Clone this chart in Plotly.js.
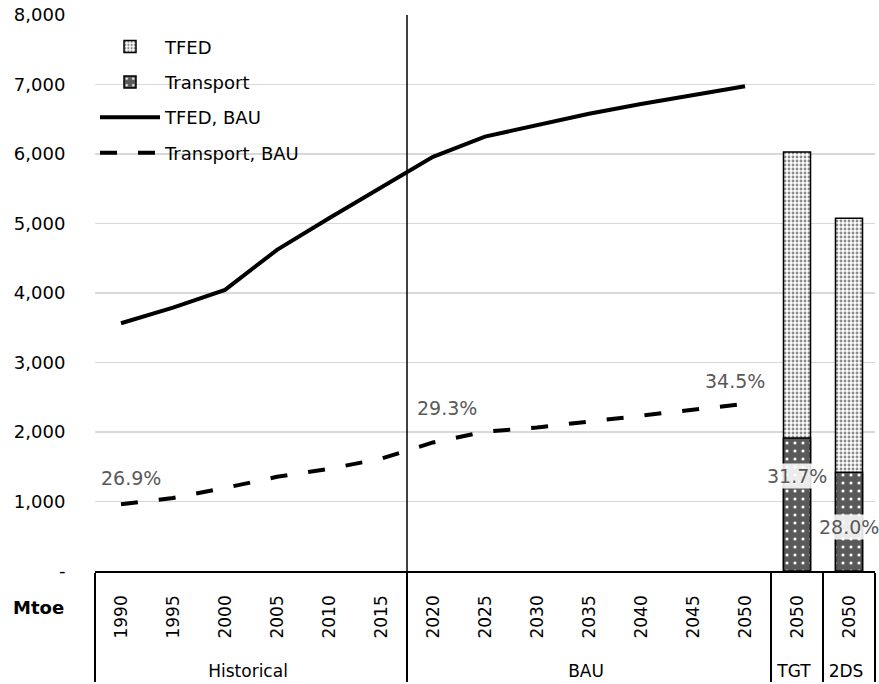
<!DOCTYPE html>
<html>
<head>
<meta charset="utf-8">
<script src="https://cdn.plot.ly/plotly-3.0.1.min.js"></script>
<style>html,body{margin:0;padding:0;background:#fff;}#chart{width:879px;height:684px;}</style>
</head>
<body>
<div id="chart"></div>
<script>
// ---- data ----
const histYears = ["1990", "1995", "2000", "2005", "2010", "2015"];
const bauYears = ["2020", "2025", "2030", "2035", "2040", "2045", "2050"];
const histLabel = "Historical";
const bauLabel = "BAU";
const tfedBAU = [3565, 3790, 4045, 4620, 5075, 5510, 5960, 6250, 6420, 6580, 6720, 6850, 6975];
const transportBAU = [960, 1050, 1195, 1355, 1470, 1615, 1850, 2005, 2065, 2150, 2225, 2315, 2405];
const scenarios = ["TGT", "2DS"];
const scenarioYear = "2050";
const tfedScen = [6030, 5075];
const transportScen = [1912, 1421];
const yTickVals = [0, 1000, 2000, 3000, 4000, 5000, 6000, 7000, 8000];
const yTickText = ["-", "1,000", "2,000", "3,000", "4,000", "5,000", "6,000", "7,000", "8,000"];
const unitLabel = "Mtoe";

// ---- build ----
const FONT = "DejaVu Sans";
// leading non-breaking spaces give the rotated year labels the depth they have in the reference
const PAD = "\u00a0\u00a0\u00a0\u00a0";
const padYear = y => PAD + y;
const lineGroups = histYears.map(() => histLabel).concat(bauYears.map(() => bauLabel));
const lineYears = histYears.concat(bauYears);
const lineX = [lineGroups, lineYears.map(padYear)];
const barX = [scenarios, scenarios.map(() => padYear(scenarioYear))];
const pct = (a, b) => (a / b * 100).toFixed(1) + "%";

const traces = [
  {
    type: "scatter", mode: "lines", name: "TFED, BAU", x: lineX, y: tfedBAU,
    legendrank: 3, legendgroup: "c",
    line: {color: "#000000", width: 4}, hoverinfo: "skip"
  },
  {
    type: "scatter", mode: "lines", name: "Transport, BAU", x: lineX, y: transportBAU,
    legendrank: 4, legendgroup: "d",
    line: {color: "#000000", width: 4, dash: "17px,21px"}, hoverinfo: "skip"
  },
  {
    type: "bar", name: "TFED", x: barX, y: tfedScen, width: 0.52,
    legendrank: 1, legendgroup: "a",
    marker: {
      color: "#ffffff",
      pattern: {shape: ".", bgcolor: "#ffffff", fgcolor: "#8c8c8c", size: 4, solidity: 0.4},
      line: {color: "#000000", width: 1.5}
    },
    hoverinfo: "skip"
  },
  {
    type: "bar", name: "Transport", x: barX, y: transportScen, width: 0.52,
    legendrank: 2, legendgroup: "b",
    marker: {
      color: "#595959",
      pattern: {shape: ".", bgcolor: "#595959", fgcolor: "#ffffff", size: 8, solidity: 0.12},
      line: {color: "#000000", width: 1.5}
    },
    hoverinfo: "skip"
  }
];

const nHist = histYears.length;
const nLine = lineYears.length;
const pctFont = {family: FONT, size: 19, color: "#595959"};
const annotations = [
  {x: 0, y: transportBAU[0], text: pct(transportBAU[0], tfedBAU[0]), xshift: 10, yshift: 26},
  {x: nHist - 1, y: transportBAU[nHist - 1], text: pct(transportBAU[nHist - 1], tfedBAU[nHist - 1]), xanchor: "left", xshift: 34, yshift: 51},
  {x: nLine - 1, y: transportBAU[nLine - 1], text: pct(transportBAU[nLine - 1], tfedBAU[nLine - 1]), xshift: -10, yshift: 23},
  {x: nLine, y: transportScen[0], text: pct(transportScen[0], tfedScen[0]), yshift: -38, bgcolor: "rgba(255,255,255,0.88)"},
  {x: nLine + 1, y: transportScen[1], text: pct(transportScen[1], tfedScen[1]), yshift: -55, bgcolor: "rgba(255,255,255,0.88)"}
].map(a => Object.assign({xref: "x", yref: "y", showarrow: false, font: pctFont, yanchor: "middle"}, a));

annotations.push({
  xref: "paper", yref: "paper", x: -0.073, y: -0.0665, text: "<b>" + unitLabel + "</b>",
  showarrow: false, font: {family: FONT, size: 18, color: "#000000"}, xanchor: "center", yanchor: "middle"
});

const layout = {
  width: 879, height: 684,
  margin: {l: 95, r: 4, t: 15, b: 113},
  paper_bgcolor: "#ffffff", plot_bgcolor: "#ffffff",
  barmode: "overlay",
  showlegend: true,
  legend: {
    x: 0, y: 0.976, xanchor: "left", yanchor: "top",
    bgcolor: "rgba(255,255,255,0)", itemwidth: 60,
    font: {family: FONT, size: 18, color: "#000000"},
    traceorder: "grouped", tracegroupgap: 9
  },
  xaxis: {
    type: "multicategory",
    range: [-0.5, nLine + scenarios.length - 0.5],
    showline: true, linecolor: "#000000", linewidth: 1.5,
    showdividers: true, dividercolor: "#000000", dividerwidth: 1.5,
    tickangle: -90,
    ticks: "", ticklabelstandoff: 16,
    tickfont: {family: FONT, size: 17, color: "#000000"},
    showgrid: false, zeroline: false
  },
  yaxis: {
    range: [0, 8000],
    tickvals: yTickVals, ticktext: yTickText,
    showgrid: true, gridcolor: "#d9d9d9", gridwidth: 1.5,
    zeroline: false, showline: false,
    ticks: "outside", ticklen: 25, tickcolor: "rgba(0,0,0,0)",
    tickfont: {family: FONT, size: 18, color: "#000000"}
  },
  shapes: [
    {type: "line", xref: "x", yref: "y", x0: nHist - 0.5, x1: nHist - 0.5, y0: 0, y1: 8000,
     line: {color: "#000000", width: 1.5}}
  ],
  annotations: annotations
};

Plotly.newPlot("chart", traces, layout, {staticPlot: true, displayModeBar: false});
</script>
</body>
</html>
